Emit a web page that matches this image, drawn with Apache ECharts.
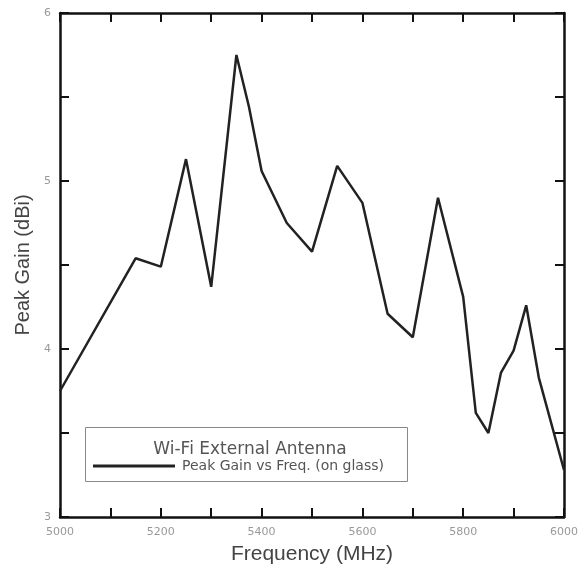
<!DOCTYPE html>
<html>
<head>
<meta charset="utf-8">
<script src="https://cdn.jsdelivr.net/npm/echarts@6/dist/echarts.min.js"></script>
<style>html,body{margin:0;padding:0;background:#fff}#c{width:585px;height:571px}</style>
</head>
<body>
<div id="c"></div>
<script>
var frequency = [5000, 5150, 5200, 5250, 5300, 5350, 5375, 5400, 5450, 5500, 5550, 5600, 5650, 5700, 5750, 5800, 5825, 5850, 5875, 5900, 5925, 5950, 6000];
var peakGain  = [3.75, 4.54, 4.49, 5.13, 4.37, 5.75, 5.44, 5.06, 4.75, 4.58, 5.09, 4.87, 4.21, 4.07, 4.90, 4.31, 3.62, 3.50, 3.86, 3.99, 4.26, 3.83, 3.28];
var seriesName = 'Peak Gain vs Freq. (on glass)';
var legendTitle = 'Wi-Fi External Antenna';
var xLabelValues = [5000, 5200, 5400, 5600, 5800, 6000];
var yLabelValues = [3, 4, 5, 6];

var chart = echarts.init(document.getElementById('c'));
var axisLine = {lineStyle: {color: '#111', width: 2.5}};
var tickStyle = {inside: true, length: 9, lineStyle: {color: '#111', width: 2}};
var labelFont = {fontFamily: 'DejaVu Sans, sans-serif', fontSize: 11, color: '#999'};
var data = frequency.map(function (f, i) { return [f, peakGain[i]]; });

chart.setOption({
  animation: false,
  backgroundColor: '#fff',
  grid: {left: 60, right: 21, top: 13, bottom: 54, show: false},
  title: {
    text: legendTitle,
    left: 245, top: 436, textAlign: 'center',
    textStyle: {fontFamily: 'DejaVu Sans, sans-serif', fontSize: 17, fontWeight: 'normal', color: '#555'}
  },
  legend: {
    data: [seriesName],
    left: 93, top: 459,
    itemWidth: 82, itemHeight: 3, itemGap: 0,
    padding: 0,
    icon: 'rect',
    textStyle: {fontFamily: 'DejaVu Sans, sans-serif', fontSize: 14, color: '#555', padding: [0, 0, 0, 2]}
  },
  graphic: [{
    type: 'rect', left: 85, top: 427, z: 0, silent: true,
    shape: {width: 322, height: 54},
    style: {fill: '#fff', stroke: '#888', lineWidth: 1}
  }],
  xAxis: [{
    type: 'value', min: 5000, max: 6000, interval: 100,
    name: 'Frequency (MHz)', nameLocation: 'middle', nameGap: 27,
    nameTextStyle: {fontFamily: 'Liberation Sans, Arial, sans-serif', fontSize: 21, color: '#444'},
    axisLine: axisLine, axisTick: tickStyle, splitLine: {show: false},
    axisLabel: Object.assign({margin: 10, formatter: function (v) { return xLabelValues.indexOf(v) >= 0 ? String(v) : ''; }}, labelFont)
  }, {
    type: 'value', position: 'top', min: 5000, max: 6000, interval: 100,
    axisLine: axisLine, axisTick: tickStyle, splitLine: {show: false}, axisLabel: {show: false}
  }],
  yAxis: [{
    type: 'value', min: 3, max: 6, interval: 0.5,
    name: 'Peak Gain (dBi)', nameLocation: 'middle', nameGap: 27,
    nameTextStyle: {fontFamily: 'Liberation Sans, Arial, sans-serif', fontSize: 20, color: '#444'},
    axisLine: axisLine, axisTick: tickStyle, splitLine: {show: false},
    axisLabel: Object.assign({margin: 9, formatter: function (v) { return yLabelValues.indexOf(v) >= 0 ? String(v) : ''; }}, labelFont)
  }, {
    type: 'value', position: 'right', min: 3, max: 6, interval: 0.5,
    axisLine: axisLine, axisTick: tickStyle, splitLine: {show: false}, axisLabel: {show: false}
  }],
  series: [{
    name: seriesName, type: 'line', data: data, showSymbol: false, symbol: 'none',
    lineStyle: {color: '#222', width: 2.5}, itemStyle: {color: '#222'}, z: 3
  }]
});
</script>
</body>
</html>
